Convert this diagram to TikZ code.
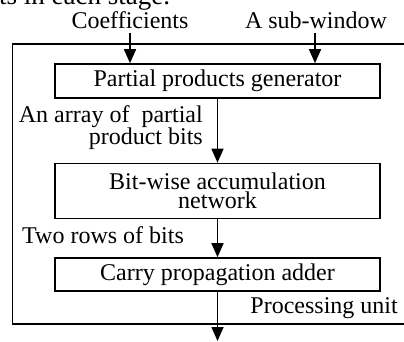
\documentclass[tikz,border=0pt]{standalone}
\usepackage{fontspec}
\setmainfont{Liberation Serif}
\usetikzlibrary{arrows.meta,positioning}
\tikzstyle{stage}=[draw, line width=1.6pt, minimum width=325pt, inner sep=0pt, align=center]
\tikzstyle{flow}=[-{Triangle[width=12pt,length=14pt]}, line width=1.6pt]
\tikzstyle{lbl}=[inner sep=0pt]

\begin{document}
\begin{tikzpicture}[x=1pt,y=-1pt,font=\fontsize{24}{19.5}\selectfont]
  \useasboundingbox (0,0) rectangle (404,342);
  % caption line above, cut off by the page
  \node[lbl, anchor=base west, font=\fontsize{27}{27}\selectfont] (cap) at (-1,5) {ts in each stage.};
  % Processing unit (runs past the right edge)
  \draw[line width=1.6pt] (12.5,44) rectangle (430,324);
  % Stages
  \node[stage, minimum height=34pt] (ppg) at (217.5,81) {Partial products generator};
  \node[stage, minimum height=55pt] (ban) at (217.5,191) {Bit-wise accumulation\\network};
  \node[stage, minimum height=33pt] (cpa) at (217.5,274.5) {Carry propagation adder};
  % Inputs
  \node[anchor=base] (coef) at (130,29) {Coefficients};
  \node[anchor=base] (subwin) at (316,29) {A sub-window};
  \draw[flow] (coef) -- (coef |- ppg.north);
  \draw[flow] (subwin.south -| 315,0) -- (315,0 |- ppg.north);
  % Data flow between stages
  \coordinate (out) at (217.5,341);
  \draw[flow] (ppg) -- (ban);
  \draw[flow] (ban) -- (cpa);
  \draw[flow] (cpa) -- (out);
  % Labels
  \node[lbl, anchor=base east, align=right] (pplbl) at (203,145) {An array of~ partial\\product bits};
  \node[lbl, anchor=base west] (rowlbl) at (22,243) {Two rows of bits};
  \node[lbl, anchor=base east] (unitlbl) at (398,313) {Processing unit};
\end{tikzpicture}
\end{document}
